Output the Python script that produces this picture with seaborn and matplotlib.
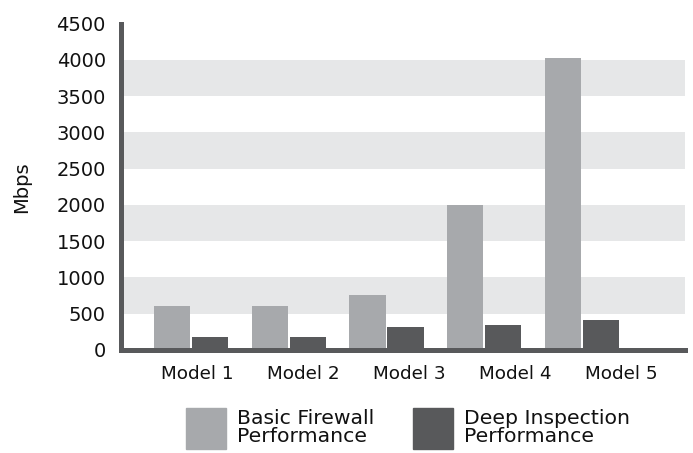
import matplotlib
matplotlib.use("Agg")
import matplotlib.pyplot as plt
import seaborn as sns
import pandas as pd
import numpy as np

models = ["Model 1", "Model 2", "Model 3", "Model 4", "Model 5"]
basic_firewall = [610, 610, 762, 2000, 4030]
deep_inspection = [183, 183, 321, 349, 417]
series_names = ["Basic Firewall\nPerformance", "Deep Inspection\nPerformance"]
y_ticks = [0, 500, 1000, 1500, 2000, 2500, 3000, 3500, 4000, 4500]

light = "#a7a9ac"
dark = "#58595b"
band = "#e6e7e8"
text_color = "#111111"

df = pd.DataFrame({
    "model": models * 2,
    "mbps": basic_firewall + deep_inspection,
    "series": [series_names[0]] * len(models) + [series_names[1]] * len(models),
})

sns.set_theme(style="white")
plt.rcParams["font.family"] = ["DejaVu Sans"]

fig = plt.figure(figsize=(6.93, 4.53), dpi=100)
ax = fig.add_axes([0.1739, 0.2274, 0.8145, 0.7203])

# alternating horizontal bands behind the bars
for lo in y_ticks[1:-1:2]:
    ax.axhspan(lo, lo + 500, color=band, lw=0, zorder=0)

sns.barplot(data=df, x="model", y="mbps", hue="series",
            palette=[light, dark], width=0.78, gap=0.05,
            saturation=1, linewidth=0, edgecolor="none",
            legend=False, ax=ax, zorder=2)

ax.set_ylim(0, 4500)
ax.set_xlim(-0.721, 5.053)
ax.set_yticks(y_ticks)
ax.set_yticklabels([str(t) for t in y_ticks], fontsize=14, color=text_color)
ax.set_xticks(0.061 + 1.084 * np.arange(len(models)))
ax.set_xticklabels(models, fontsize=13.2, color=text_color)
ax.tick_params(axis="y", length=0, pad=10.5)
ax.tick_params(axis="x", length=0, pad=11)
ax.set_xlabel("")
ax.set_ylabel("Mbps", fontsize=14, color=text_color, labelpad=18)

for side in ["top", "right"]:
    ax.spines[side].set_visible(False)
for side in ["left", "bottom"]:
    ax.spines[side].set_color(dark)
    ax.spines[side].set_linewidth(3.6)
    ax.spines[side].set_zorder(3)

handles = [plt.Rectangle((0, 0), 1, 1, color=light),
           plt.Rectangle((0, 0), 1, 1, color=dark)]
leg = fig.legend(handles, series_names, ncol=2, frameon=False,
                 loc="center", bbox_to_anchor=(0.5887, 0.054),
                 fontsize=14.7, handlelength=1.93, handleheight=2.75,
                 handletextpad=0.55, columnspacing=1.92, labelspacing=0,
                 borderpad=0)
for t in leg.get_texts():
    t.set_linespacing(0.95)
    t.set_color(text_color)

fig.savefig("out.png", dpi=100)
